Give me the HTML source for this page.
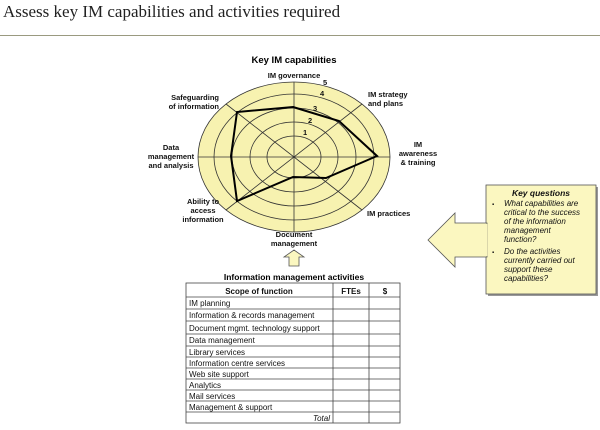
<!DOCTYPE html>
<html><head><style>
body{margin:0;background:#fff;width:600px;height:425px;overflow:hidden}
svg text{font-family:"Liberation Sans",Arial,sans-serif}
</style></head><body>
<svg width="600" height="425" viewBox="0 0 600 425" xmlns="http://www.w3.org/2000/svg">
<text x="3" y="17" style="font-family:'Liberation Serif',serif" font-size="17" fill="#222">Assess key IM capabilities and activities required</text>
<line x1="0" y1="35.5" x2="600" y2="35.5" stroke="#9a9a80" stroke-width="1"/>
<text x="294" y="63" font-size="9.5" font-weight="bold" text-anchor="middle">Key IM capabilities</text>
<g stroke="#333" stroke-width="0.8">
<ellipse cx="294" cy="157" rx="96" ry="75" fill="#f7f2b0"/>
<ellipse cx="294" cy="157" rx="80" ry="63" fill="none"/>
<ellipse cx="294" cy="157" rx="62" ry="49" fill="none"/>
<ellipse cx="294" cy="157" rx="44" ry="35" fill="none"/>
<ellipse cx="294" cy="157" rx="27" ry="21" fill="none"/>
<line x1="294" y1="82" x2="294" y2="232"/>
<line x1="198" y1="157" x2="390" y2="157"/>
<line x1="226" y1="104" x2="362" y2="210"/>
<line x1="226" y1="210" x2="362" y2="104"/>
</g>
<polygon points="293,107 339,121 377,156 326,178 293,177 237,201 231,156 237,112" fill="none" stroke="#000" stroke-width="2"/>
<g font-size="7.5" font-weight="bold" fill="#111">
<text x="323" y="85">5</text><text x="320" y="96">4</text><text x="313" y="111">3</text><text x="308" y="123">2</text><text x="303" y="135">1</text>
<text x="294" y="78" text-anchor="middle">IM governance</text>
<text x="368" y="97">IM strategy</text><text x="368" y="106">and plans</text>
<text x="418" y="147" text-anchor="middle">IM</text><text x="418" y="156" text-anchor="middle">awareness</text><text x="418" y="165" text-anchor="middle">&amp; training</text>
<text x="367" y="216">IM practices</text>
<text x="294" y="237" text-anchor="middle">Document</text><text x="294" y="246" text-anchor="middle">management</text>
<text x="203" y="204" text-anchor="middle">Ability to</text><text x="203" y="213" text-anchor="middle">access</text><text x="203" y="222" text-anchor="middle">information</text>
<text x="171" y="150" text-anchor="middle">Data</text><text x="171" y="159" text-anchor="middle">management</text><text x="171" y="168" text-anchor="middle">and analysis</text>
<text x="219" y="100" text-anchor="end">Safeguarding</text><text x="219" y="109" text-anchor="end">of information</text>
</g>
<polygon points="294,250 304,257 299,257 299,266 289,266 289,257 284,257" fill="#fbf7c0" stroke="#555" stroke-width="0.8"/>
<text x="294" y="280" font-size="8.5" font-weight="bold" text-anchor="middle">Information management activities</text>
<g stroke="#444" stroke-width="0.8" fill="none">
<rect x="186" y="283" width="214" height="140"/>
<line x1="333" y1="283" x2="333" y2="423"/><line x1="369" y1="283" x2="369" y2="423"/>
<line x1="186" y1="297" x2="400" y2="297"/>
<line x1="186" y1="309" x2="400" y2="309"/><line x1="186" y1="321" x2="400" y2="321"/>
<line x1="186" y1="334" x2="400" y2="334"/><line x1="186" y1="346" x2="400" y2="346"/>
<line x1="186" y1="357" x2="400" y2="357"/><line x1="186" y1="368" x2="400" y2="368"/>
<line x1="186" y1="379" x2="400" y2="379"/><line x1="186" y1="390" x2="400" y2="390"/>
<line x1="186" y1="401" x2="400" y2="401"/><line x1="186" y1="412" x2="400" y2="412"/>
</g>
<g font-size="8" fill="#111">
<text x="259" y="294" text-anchor="middle" font-weight="bold">Scope of function</text>
<text x="351" y="294" text-anchor="middle" font-weight="bold">FTEs</text>
<text x="385" y="294" text-anchor="middle" font-weight="bold">$</text>
<text x="189" y="306">IM planning</text>
<text x="189" y="318">Information &amp; records management</text>
<text x="189" y="331">Document mgmt. technology support</text>
<text x="189" y="343">Data management</text>
<text x="189" y="355">Library services</text>
<text x="189" y="366">Information centre services</text>
<text x="189" y="377">Web site support</text>
<text x="189" y="388">Analytics</text>
<text x="189" y="399">Mail services</text>
<text x="189" y="410">Management &amp; support</text>
<text x="330" y="421" text-anchor="end" font-style="italic">Total</text>
</g>
<rect x="488" y="187" width="110" height="109" fill="#999"/>
<rect x="486" y="185" width="110" height="109" fill="#fbf7c0" stroke="#555" stroke-width="0.8"/>
<polygon points="428,240 455,213 455,223 487,223 487,257 455,257 455,267" fill="#fbf7c0" stroke="#555" stroke-width="0.8"/>
<line x1="486.5" y1="224" x2="486.5" y2="256" stroke="#fbf7c0" stroke-width="1.5"/>
<g font-size="8" fill="#111" font-style="italic">
<text x="541" y="196" text-anchor="middle" font-weight="bold" font-size="8.5">Key questions</text>
<text x="492" y="206" font-style="normal" font-size="6">▪</text>
<text x="504" y="206">What capabilities are</text>
<text x="504" y="215">critical to the success</text>
<text x="504" y="224">of the information</text>
<text x="504" y="233">management</text>
<text x="504" y="242">function?</text>
<text x="492" y="254" font-style="normal" font-size="6">▪</text>
<text x="504" y="254">Do the activities</text>
<text x="504" y="263">currently carried out</text>
<text x="504" y="272">support these</text>
<text x="504" y="281">capabilities?</text>
</g>
</svg>
</body></html>
